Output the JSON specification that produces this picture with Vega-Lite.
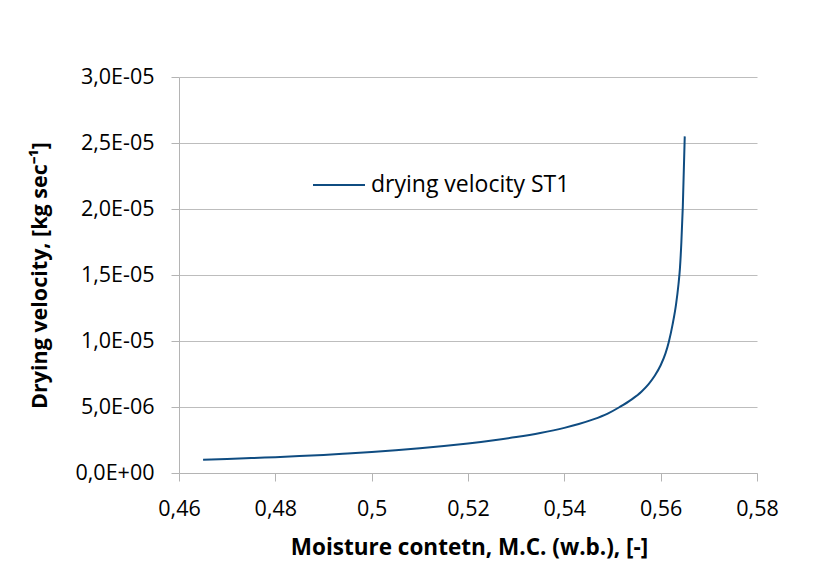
{
  "$schema": "https://vega.github.io/schema/vega-lite/v6.json",
  "width": 578,
  "height": 396,
  "autosize": {"type": "none"},
  "padding": {"left": 179, "top": 77, "right": 72, "bottom": 108},
  "background": "white",
  "config": {"view": {"stroke": null}, "font": "Open Sans"},
  "data": {
    "values": [
      {"mc": 0.465, "v": 1.00e-6, "series": "drying velocity ST1"},
      {"mc": 0.470, "v": 1.06e-6, "series": "drying velocity ST1"},
      {"mc": 0.475, "v": 1.13e-6, "series": "drying velocity ST1"},
      {"mc": 0.480, "v": 1.20e-6, "series": "drying velocity ST1"},
      {"mc": 0.485, "v": 1.28e-6, "series": "drying velocity ST1"},
      {"mc": 0.490, "v": 1.37e-6, "series": "drying velocity ST1"},
      {"mc": 0.495, "v": 1.48e-6, "series": "drying velocity ST1"},
      {"mc": 0.500, "v": 1.60e-6, "series": "drying velocity ST1"},
      {"mc": 0.505, "v": 1.73e-6, "series": "drying velocity ST1"},
      {"mc": 0.510, "v": 1.88e-6, "series": "drying velocity ST1"},
      {"mc": 0.515, "v": 2.05e-6, "series": "drying velocity ST1"},
      {"mc": 0.520, "v": 2.24e-6, "series": "drying velocity ST1"},
      {"mc": 0.525, "v": 2.46e-6, "series": "drying velocity ST1"},
      {"mc": 0.530, "v": 2.72e-6, "series": "drying velocity ST1"},
      {"mc": 0.535, "v": 3.03e-6, "series": "drying velocity ST1"},
      {"mc": 0.540, "v": 3.42e-6, "series": "drying velocity ST1"},
      {"mc": 0.543, "v": 3.71e-6, "series": "drying velocity ST1"},
      {"mc": 0.546, "v": 4.06e-6, "series": "drying velocity ST1"},
      {"mc": 0.549, "v": 4.50e-6, "series": "drying velocity ST1"},
      {"mc": 0.5515, "v": 5.00e-6, "series": "drying velocity ST1"},
      {"mc": 0.554, "v": 5.58e-6, "series": "drying velocity ST1"},
      {"mc": 0.556, "v": 6.16e-6, "series": "drying velocity ST1"},
      {"mc": 0.5575, "v": 6.73e-6, "series": "drying velocity ST1"},
      {"mc": 0.5588, "v": 7.38e-6, "series": "drying velocity ST1"},
      {"mc": 0.560, "v": 8.16e-6, "series": "drying velocity ST1"},
      {"mc": 0.561, "v": 9.06e-6, "series": "drying velocity ST1"},
      {"mc": 0.5617, "v": 9.95e-6, "series": "drying velocity ST1"},
      {"mc": 0.5625, "v": 1.13e-5, "series": "drying velocity ST1"},
      {"mc": 0.5632, "v": 1.28e-5, "series": "drying velocity ST1"},
      {"mc": 0.5637, "v": 1.43e-5, "series": "drying velocity ST1"},
      {"mc": 0.5640, "v": 1.55e-5, "series": "drying velocity ST1"},
      {"mc": 0.5643, "v": 1.75e-5, "series": "drying velocity ST1"},
      {"mc": 0.5646, "v": 2.02e-5, "series": "drying velocity ST1"},
      {"mc": 0.5650, "v": 2.55e-5, "series": "drying velocity ST1"}
    ]
  },
  "mark": {"type": "line", "interpolate": "monotone", "strokeWidth": 2},
  "encoding": {
    "x": {
      "field": "mc",
      "type": "quantitative",
      "scale": {"domain": [0.46, 0.58], "nice": false, "zero": false},
      "axis": {
        "values": [0.46, 0.48, 0.5, 0.52, 0.54, 0.56, 0.58],
        "grid": false,
        "labelExpr": "replace(format(datum.value, '.2~f'), '.', ',')",
        "labelFont": "Open Sans",
        "labelFontSize": 21.5,
        "labelColor": "#000000",
        "labelBaseline": "alphabetic",
        "labelPadding": 34,
        "labelFlush": false,
        "labelOverlap": false,
        "tickSize": 8,
        "tickColor": "#b4b4b4",
        "domainColor": "#b4b4b4",
        "title": "Moisture contetn, M.C. (w.b.), [-]",
        "titleFont": "Open Sans",
        "titleFontSize": 22.5,
        "titleFontWeight": "bold",
        "titleColor": "#000000",
        "titleX": 290,
        "titleY": 81,
        "titleAlign": "center",
        "titleBaseline": "alphabetic",
        "titleLimit": 600
      }
    },
    "y": {
      "field": "v",
      "type": "quantitative",
      "scale": {"domain": [0, 3e-5], "nice": false},
      "axis": {
        "values": [0, 5e-6, 1e-5, 1.5e-5, 2e-5, 2.5e-5, 3e-5],
        "grid": true,
        "gridColor": "#bdbdbd",
        "gridWidth": 1,
        "labelExpr": "datum.value == 0 ? '0,0E+00' : replace(replace(format(datum.value, '.1e'), '.', ','), 'e-', 'E-0')",
        "labelFont": "Open Sans",
        "labelFontSize": 21.5,
        "labelColor": "#000000",
        "labelPadding": 17,
        "labelFlush": false,
        "labelOverlap": false,
        "tickSize": 8,
        "tickColor": "#b4b4b4",
        "domainColor": "#b4b4b4",
        "title": "Drying velocity, [kg sec⁻¹]",
        "titleFont": "Open Sans",
        "titleFontSize": 21.5,
        "titleFontWeight": "bold",
        "titleColor": "#000000",
        "titleAngle": -90,
        "titleX": -133,
        "titleY": 198,
        "titleAlign": "center",
        "titleBaseline": "alphabetic",
        "titleLimit": 600
      }
    },
    "color": {
      "field": "series",
      "type": "nominal",
      "scale": {"range": ["#0f4c81"]},
      "legend": {
        "title": null,
        "orient": "none",
        "legendX": 133,
        "legendY": 81,
        "padding": 0,
        "symbolType": "stroke",
        "symbolSize": 2704,
        "symbolStrokeWidth": 2,
        "labelFont": "Open Sans",
        "labelFontSize": 23,
        "labelColor": "#000000",
        "labelOffset": 5,
        "labelLimit": 500
      }
    }
  }
}
